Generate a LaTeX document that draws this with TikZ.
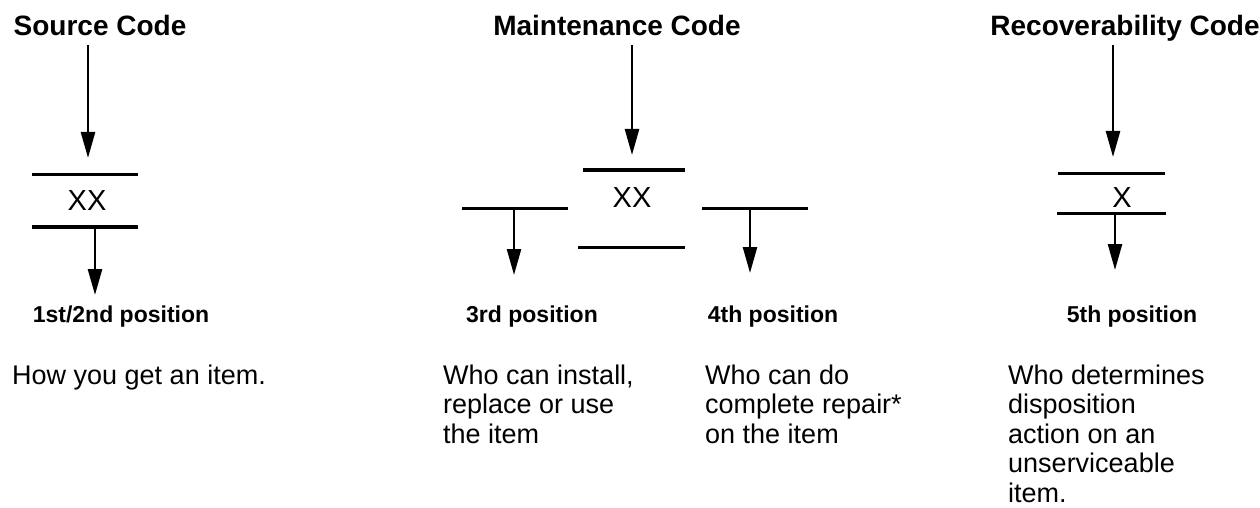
\documentclass[tikz,border=0pt]{standalone}
\usepackage{fontspec}
\setmainfont{Liberation Sans}
\usetikzlibrary{arrows.meta}
\begin{document}
\begin{tikzpicture}[x=1pt,y=-1pt,
  titlelbl/.style={inner sep=0pt,anchor=base,font=\fontsize{28}{32}\selectfont\bfseries},
  poslbl/.style={inner sep=0pt,anchor=base,font=\fontsize{23}{27}\selectfont\bfseries},
  codelbl/.style={inner sep=0pt,anchor=base,font=\fontsize{29}{32}\selectfont},
  desclbl/.style={inner sep=0pt,anchor=north west,align=left,font=\fontsize{27}{29.4}\selectfont},
  bar/.style={line width=3pt},
  thickbar/.style={line width=4.5pt},
  arr/.style={line width=2.5pt,-{Triangle[width=14pt,length=26pt]}}]
\useasboundingbox (0,0) rectangle (1260,508);

% titles
\node[titlelbl] (src) at (100,36) {Source Code};
\node[titlelbl] (mnt) at (617,36) {Maintenance Code};
\node[titlelbl] (rec) at (1125,36) {Recoverability Code};

% codes
\node[codelbl] (sxx) at (87,210) {XX};
\node[codelbl] (mxx) at (632,207) {XX};
\node[codelbl] (rx) at (1122,207) {X};

% position labels
\node[poslbl] (p12) at (121,322) {1st/2nd position};
\node[poslbl] (p3) at (532,322) {3rd position};
\node[poslbl] (p4) at (773,322) {4th position};
\node[poslbl] (p5) at (1132,322) {5th position};

% descriptions
\node[desclbl] (d12) at (12,364.8) {How you get an item.};
\node[desclbl] (d3) at (443,364.8) {Who can install,\\replace or use\\the item};
\node[desclbl] (d4) at (705,364.8) {Who can do\\complete repair*\\on the item};
\node[desclbl] (d5) at (1008,364.8) {Who determines\\disposition\\action on an\\unserviceable\\item.};

% ---- Source code
\coordinate (sa0) at (88,45);
\coordinate (sa1) at (88,158);
\coordinate (sl1a) at (32,174); \coordinate (sl1b) at (138,174);
\coordinate (sl2a) at (32,227); \coordinate (sl2b) at (138,227);
\coordinate (sb0) at (95,229);
\coordinate (sb1) at (95,295);
\draw[arr] (sa0) -- (sa1);
\draw[bar] (sl1a) -- (sl1b);
\draw[thickbar] (sl2a) -- (sl2b);
\draw[arr] (sb0) -- (sb1);

% ---- Maintenance code
\coordinate (ma0) at (632,45);
\coordinate (ma1) at (632,155);
\coordinate (mt1) at (583,170); \coordinate (mt2) at (685,170);
\coordinate (ml1) at (462,208); \coordinate (ml2) at (568,208);
\coordinate (mr1) at (702,208); \coordinate (mr2) at (808,208);
\coordinate (mb1) at (578,247); \coordinate (mb2) at (685,247);
\coordinate (mla0) at (514,208); \coordinate (mla1) at (514,275);
\coordinate (mra0) at (750,208); \coordinate (mra1) at (750,273);
\draw[arr] (ma0) -- (ma1);
\draw[thickbar] (mt1) -- (mt2);
\draw[bar] (ml1) -- (ml2);
\draw[bar] (mr1) -- (mr2);
\draw[bar] (mb1) -- (mb2);
\draw[arr] (mla0) -- (mla1);
\draw[arr] (mra0) -- (mra1);

% ---- Recoverability code
\coordinate (ra0) at (1113,45);
\coordinate (ra1) at (1113,157);
\coordinate (rt1) at (1058,173); \coordinate (rt2) at (1165,173);
\coordinate (rb1) at (1057,213); \coordinate (rb2) at (1166,213);
\coordinate (rd0) at (1115,213); \coordinate (rd1) at (1115,270);
\draw[arr] (ra0) -- (ra1);
\draw[bar] (rt1) -- (rt2);
\draw[bar] (rb1) -- (rb2);
\draw[arr] (rd0) -- (rd1);
\end{tikzpicture}
\end{document}
